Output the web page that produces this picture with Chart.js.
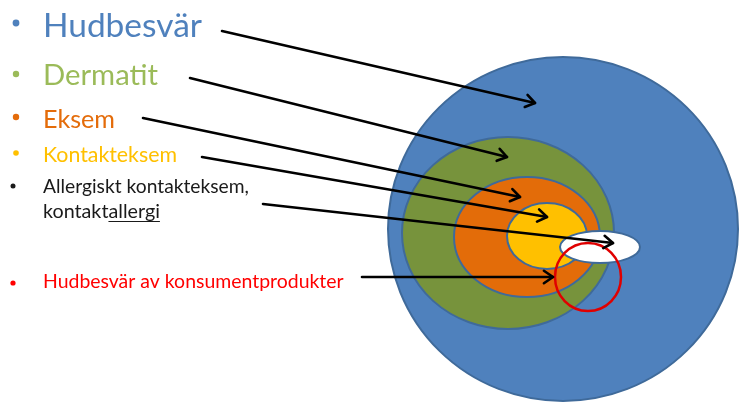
<!DOCTYPE html>
<html><head><meta charset="utf-8">
<script src="https://cdn.jsdelivr.net/npm/chart.js@4/dist/chart.umd.min.js"></script>
<style>html,body{margin:0;padding:0;background:#fff}#wrap{width:739px;height:403px}</style>
</head><body><div id="wrap"><canvas id="c" width="739" height="403"></canvas></div>
<script>
// Labels (legend-style bullet list)
const labels = ['Hudbesvär','Dermatit','Eksem','Kontakteksem','Allergiskt kontakteksem,','kontaktallergi','Hudbesvär av konsumentprodukter'];
// Nested regions (diagram coordinates)
const regionNames = ['Hudbesvär','Dermatit','Eksem','Kontakteksem','Kontaktallergi','Konsumentprodukter'];
const regionCx = [563, 508, 527, 547, 600, 588];
const regionCy = [229, 233, 237, 236, 247, 277];
const regionRx = [175, 106, 73, 40, 40, 33];
const regionRy = [172, 96, 60, 33, 16, 34];
// Arrows: start and end points
const arrowX0 = [222, 190, 143, 202, 263, 362];
const arrowY0 = [31, 78, 118, 157, 204, 277];
const arrowX1 = [535, 507, 520, 547, 613, 553];
const arrowY1 = [103, 157, 197, 217, 243, 277];

const regionFill = ['#4F81BD','#77933C','#E36C09','#FFC000','#FFFFFF', null];
const regionStroke = ['#3F6A9A','#3F6A9A','#3F6A9A','#3F6A9A','#3F6A9A','#E00000'];
const regionLW = [2,2,2,2,2,2.5];
const labelColor = ['#4F81BD','#9BBB59','#E46C0A','#FFC000','#1A1A1A','#1A1A1A','#FF0000'];
const labelTargetW = [159,115,72,134,206,117,301];
const labelX = 43;
const labelBaseline = [37,85,128,162,193,218,288];
const bulletPos = [[16,23,3.4],[16,74,3.2],[16,117,3.2],[16,153,2.8],[13,186,2.5],null,[13,283,2.6]];

const ellipsePlugin = {
  id:'ellipses',
  beforeDatasetsDraw(chart){
    const {ctx, scales:{x,y}} = chart;
    ctx.save();
    for(let i=0;i<regionCx.length;i++){
      const cx=x.getPixelForValue(regionCx[i]), cy=y.getPixelForValue(regionCy[i]);
      const rx=Math.abs(x.getPixelForValue(regionCx[i]+regionRx[i])-cx);
      const ry=Math.abs(y.getPixelForValue(regionCy[i]+regionRy[i])-cy);
      ctx.beginPath();
      ctx.ellipse(cx,cy,rx,ry,0,0,Math.PI*2);
      if(regionFill[i]){ctx.fillStyle=regionFill[i];ctx.fill();}
      ctx.lineWidth=regionLW[i];ctx.strokeStyle=regionStroke[i];ctx.stroke();
    }
    ctx.restore();
  },
  afterDatasetsDraw(chart){
    const {ctx, scales:{x,y}} = chart;
    ctx.save();
    ctx.strokeStyle='#000';ctx.lineWidth=2.6;ctx.lineCap='round';ctx.lineJoin='round';
    for(let i=0;i<arrowX0.length;i++){
      const x0=x.getPixelForValue(arrowX0[i]), y0=y.getPixelForValue(arrowY0[i]);
      const x1=x.getPixelForValue(arrowX1[i]), y1=y.getPixelForValue(arrowY1[i]);
      const a=Math.atan2(y1-y0,x1-x0), L=11, s=0.6;
      ctx.beginPath();
      ctx.moveTo(x1-L*Math.cos(a-s), y1-L*Math.sin(a-s));
      ctx.lineTo(x1,y1);
      ctx.lineTo(x1-L*Math.cos(a+s), y1-L*Math.sin(a+s));
      ctx.stroke();
    }
    ctx.restore();
  },
  afterDraw(chart){
    const {ctx} = chart;
    ctx.save();
    ctx.textBaseline='alphabetic';ctx.textAlign='left';
    for(let i=0;i<labels.length;i++){
      ctx.font='20px Lato';
      const w=ctx.measureText(labels[i]).width;
      const fs=20*labelTargetW[i]/w;
      ctx.font=fs.toFixed(2)+'px Lato';
      ctx.fillStyle=labelColor[i];
      ctx.fillText(labels[i],labelX,labelBaseline[i]);
      if(i===5){
        const pre=ctx.measureText('kontakt').width, full=ctx.measureText(labels[i]).width;
        ctx.strokeStyle=labelColor[i];ctx.lineWidth=1.2;
        ctx.beginPath();ctx.moveTo(labelX+pre,labelBaseline[i]+3.5);ctx.lineTo(labelX+full,labelBaseline[i]+3.5);ctx.stroke();
      }
      const b=bulletPos[i];
      if(b){ctx.beginPath();ctx.arc(b[0],b[1],b[2],0,Math.PI*2);ctx.fillStyle=labelColor[i];ctx.fill();}
    }
    ctx.restore();
  }
};

const datasets = arrowX0.map((v,i)=>({
  type:'line',
  label:'arrow'+i,
  data:[{x:arrowX0[i],y:arrowY0[i]},{x:arrowX1[i],y:arrowY1[i]}],
  borderColor:'#000',borderWidth:2.6,pointRadius:0,fill:false,tension:0,borderCapStyle:'round'
}));

new Chart(document.getElementById('c'),{
  type:'line',
  data:{datasets},
  options:{
    responsive:false,animation:false,
    layout:{padding:0},
    plugins:{legend:{display:false},tooltip:{enabled:false}},
    scales:{
      x:{type:'linear',min:0,max:739,display:false},
      y:{type:'linear',min:0,max:403,reverse:true,display:false}
    }
  },
  plugins:[ellipsePlugin]
});
</script></body></html>
